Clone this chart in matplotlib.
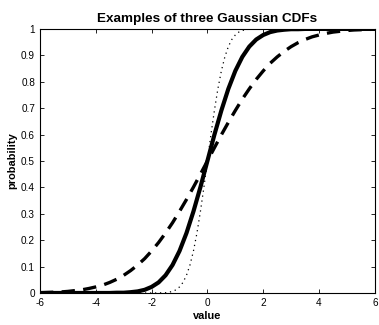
import numpy as np
import matplotlib
matplotlib.use("Agg")
import matplotlib.pyplot as plt

# sample points
x_wide = [-6, -5.75, -5.5, -5.25, -5, -4.75, -4.5, -4.25, -4, -3.75, -3.5, -3.25,
          -3, -2.75, -2.5, -2.25, -2, -1.75, -1.5, -1.25, -1, -0.75, -0.5, -0.25,
          0, 0.25, 0.5, 0.75, 1, 1.25, 1.5, 1.75, 2, 2.25, 2.5, 2.75,
          3, 3.25, 3.5, 3.75, 4, 4.25, 4.5, 4.75, 5, 5.25, 5.5, 5.75, 6]

solid_y = [0.0, 0.0, 0.0, 0.0, 0.0, 0.0, 0.0, 0.0, 0.0, 0.0, 0.0, 0.001,
           0.001, 0.003, 0.006, 0.012, 0.023, 0.040, 0.067, 0.106, 0.159, 0.227, 0.309, 0.401,
           0.5, 0.599, 0.691, 0.773, 0.841, 0.894, 0.933, 0.960, 0.977, 0.988, 0.994, 0.997,
           0.999, 0.999, 1.0, 1.0, 1.0, 1.0, 1.0, 1.0, 1.0, 1.0, 1.0, 1.0, 1.0]

dashed_y = [0.001, 0.002, 0.003, 0.004, 0.006, 0.009, 0.012, 0.017, 0.023, 0.030, 0.040, 0.052,
            0.067, 0.085, 0.106, 0.130, 0.159, 0.191, 0.227, 0.266, 0.309, 0.354, 0.401, 0.450,
            0.5, 0.550, 0.599, 0.646, 0.691, 0.734, 0.773, 0.809, 0.841, 0.870, 0.894, 0.915,
            0.933, 0.948, 0.960, 0.970, 0.977, 0.983, 0.988, 0.991, 0.994, 0.996, 0.997, 0.998, 0.999]

x_narrow = [-6, -2, -1.875, -1.75, -1.625, -1.5, -1.375, -1.25, -1.125, -1, -0.875, -0.75,
            -0.625, -0.5, -0.375, -0.25, -0.125, 0, 0.125, 0.25, 0.375, 0.5, 0.625, 0.75,
            0.875, 1, 1.125, 1.25, 1.375, 1.5, 1.625, 1.75, 1.875, 2, 6]

dotted_y = [0.0, 0.0, 0.0, 0.0, 0.001, 0.001, 0.003, 0.006, 0.012, 0.023, 0.040, 0.067,
            0.106, 0.159, 0.227, 0.309, 0.401, 0.5, 0.599, 0.691, 0.773, 0.841, 0.894, 0.933,
            0.960, 0.977, 0.988, 0.994, 0.997, 0.999, 0.999, 1.0, 1.0, 1.0, 1.0]

x_ticks = [-6, -4, -2, 0, 2, 4, 6]
y_ticks = [0, 0.1, 0.2, 0.3, 0.4, 0.5, 0.6, 0.7, 0.8, 0.9, 1]
y_ticklabels = ['0', '0.1', '0.2', '0.3', '0.4', '0.5', '0.6', '0.7', '0.8', '0.9', '1']

plt.rcParams['font.family'] = ['Liberation Sans', 'DejaVu Sans']
plt.rcParams['axes.unicode_minus'] = False

fig = plt.figure(figsize=(3.79, 3.25), dpi=100)
ax = fig.add_axes([0.1055, 0.0985, 0.8835, 0.8125])

ax.plot(x_narrow, dotted_y, color='black', lw=0.9, linestyle=(0, (1, 3)))
ax.plot(x_wide, solid_y, color='black', lw=3.0)
ax.plot(x_wide, dashed_y, color='black', lw=2.4, linestyle=(0, (4, 2.5)))

ax.set_xlim(-6, 6)
ax.set_ylim(0, 1)
ax.set_xticks(x_ticks)
ax.set_yticks(y_ticks)
ax.set_yticklabels(y_ticklabels)
ax.tick_params(direction='in', top=True, right=True, labelsize=7.2, length=3, width=0.6, pad=3.5)
for s in ax.spines.values():
    s.set_linewidth(0.8)

ax.set_title('Examples of three Gaussian CDFs', fontsize=9.7, fontweight='bold', pad=5)
ax.set_xlabel('value', fontsize=7.9, fontweight='bold', labelpad=2)
ax.set_ylabel('probability', fontsize=7.9, fontweight='bold', labelpad=3)

fig.savefig('out.png', dpi=100)
